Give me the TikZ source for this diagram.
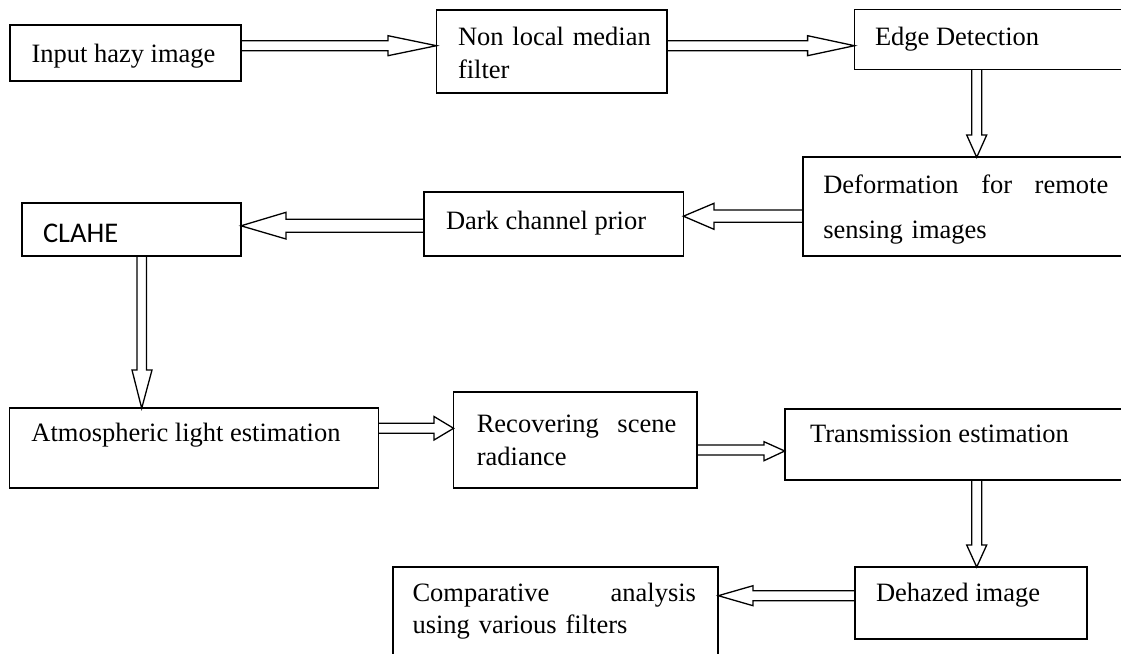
\documentclass[tikz,border=0pt]{standalone}
\usepackage{fontspec}
\setmainfont{Liberation Serif}
\newfontfamily\calib{Carlito}
\begin{document}
\begin{tikzpicture}[x=1pt,y=-1pt,
  box/.style={draw, line width=1.7pt, rectangle, anchor=north west, inner sep=0pt, outer sep=0pt},
  txt/.style={anchor=base west, inner sep=0pt, outer sep=0pt, align=left, font=\fontsize{26.5}{33}\selectfont},
  arr/.style={draw, line width=1.3pt, line join=miter}]
\useasboundingbox (0,0) rectangle (1121,653);
% boxes
\node[box, minimum width=231pt, minimum height=56pt] (n1) at (10,25) {};
\node[box, minimum width=230.5pt, minimum height=83.3pt] (n2) at (436.5,10) {};
\node[box, minimum width=280pt, minimum height=60pt] (n3) at (854.5,9.5) {};
\node[box, minimum width=330pt, minimum height=98.4pt] (n4) at (802.7,157.3) {};
\node[box, minimum width=259.4pt, minimum height=64.3pt] (n5) at (424,191.7) {};
\node[box, minimum width=219pt, minimum height=52.7pt] (n6) at (22,203.3) {};
\node[box, minimum width=369pt, minimum height=79.4pt] (n7) at (9.6,408.3) {};
\node[box, minimum width=243.4pt, minimum height=96.6pt] (n8) at (453.6,391.7) {};
\node[box, minimum width=350pt, minimum height=70.7pt] (n9) at (784.7,409.3) {};
\node[box, minimum width=232pt, minimum height=72pt] (n10) at (855,567) {};
\node[box, minimum width=325.3pt, minimum height=100pt] (n11) at (393,567) {};
% texts
\node[txt] (t1) at (31.5,62) {Input hazy image};
\node[txt, text width=205pt] (t2) at (458,45) {Non local median\\filter};
\node[txt] (t3) at (875,45) {Edge Detection};
\node[txt, text width=285pt, font=\fontsize{26.5}{45}\selectfont] (t4) at (823.3,193.3) {Deformation\hfill for\hfill remote\\sensing images};
\node[txt] (t5) at (446,229.3) {Dark channel prior};
\node[txt, font=\calib\fontsize{28.5}{33}\selectfont] (t6) at (43,242.7) {CLAHE};
\node[txt] (t7) at (31.4,441) {Atmospheric light estimation};
\node[txt, text width=199.5pt] (t8) at (476.8,432) {Recovering\hfill scene\\radiance};
\node[txt] (t9) at (810,442.5) {Transmission estimation};
\node[txt] (t10) at (876,601.7) {Dehazed image};
\node[txt, text width=283.5pt, font=\fontsize{26.5}{32}\selectfont] (t11) at (412.5,601) {Comparative\hfill analysis\\using various filters};
% arrows
\draw[arr] (n1.east |- 0,40.7) -- (388,40.7) -- (388,35.7) -- (n2.west |- 0,45.7) -- (388,55.7) -- (388,50.7) -- (n1.east |- 0,50.7);
\draw[arr] (n2.east |- 0,40.7) -- (807.6,40.7) -- (807.6,35.7) -- (n3.west |- 0,45.7) -- (807.6,55.7) -- (807.6,50.7) -- (n2.east |- 0,50.7);
\draw[arr] (971.7,0 |- n3.south) -- (971.7,135) -- (966.7,135) -- (976.7,0 |- n4.north) -- (986.7,135) -- (981.7,135) -- (981.7,0 |- n3.south);
\draw[arr] (n4.west |- 0,210) -- (714,210) -- (714,203.3) -- (n5.east |- 0,216.2) -- (714,229.3) -- (714,222.3) -- (n4.west |- 0,222.3);
\draw[arr] (n5.west |- 0,219.3) -- (286,219.3) -- (286,212.3) -- (n6.east |- 0,225.8) -- (286,239) -- (286,232.3) -- (n5.west |- 0,232.3);
\draw[arr] (137,0 |- n6.south) -- (137,370) -- (132,370) -- (141.7,0 |- n7.north) -- (152,370) -- (146.4,370) -- (146.4,0 |- n6.south);
\draw[arr] (n7.east |- 0,423.3) -- (434,423.3) -- (434,416.5) -- (n8.west |- 0,428.3) -- (434,440) -- (434,433.3) -- (n7.east |- 0,433.3);
\draw[arr] (n8.east |- 0,445) -- (764,445) -- (764,441.7) -- (n9.west |- 0,451) -- (764,460.7) -- (764,455) -- (n8.east |- 0,455);
\draw[arr] (971.7,0 |- n9.south) -- (971.7,545) -- (966.7,545) -- (976.7,0 |- n10.north) -- (986.7,545) -- (981.7,545) -- (981.7,0 |- n9.south);
\draw[arr] (n10.west |- 0,590.7) -- (753,590.7) -- (753,585.7) -- (n11.east |- 0,595.7) -- (753,605.7) -- (753,600.7) -- (n10.west |- 0,600.7);
\end{tikzpicture}
\end{document}
